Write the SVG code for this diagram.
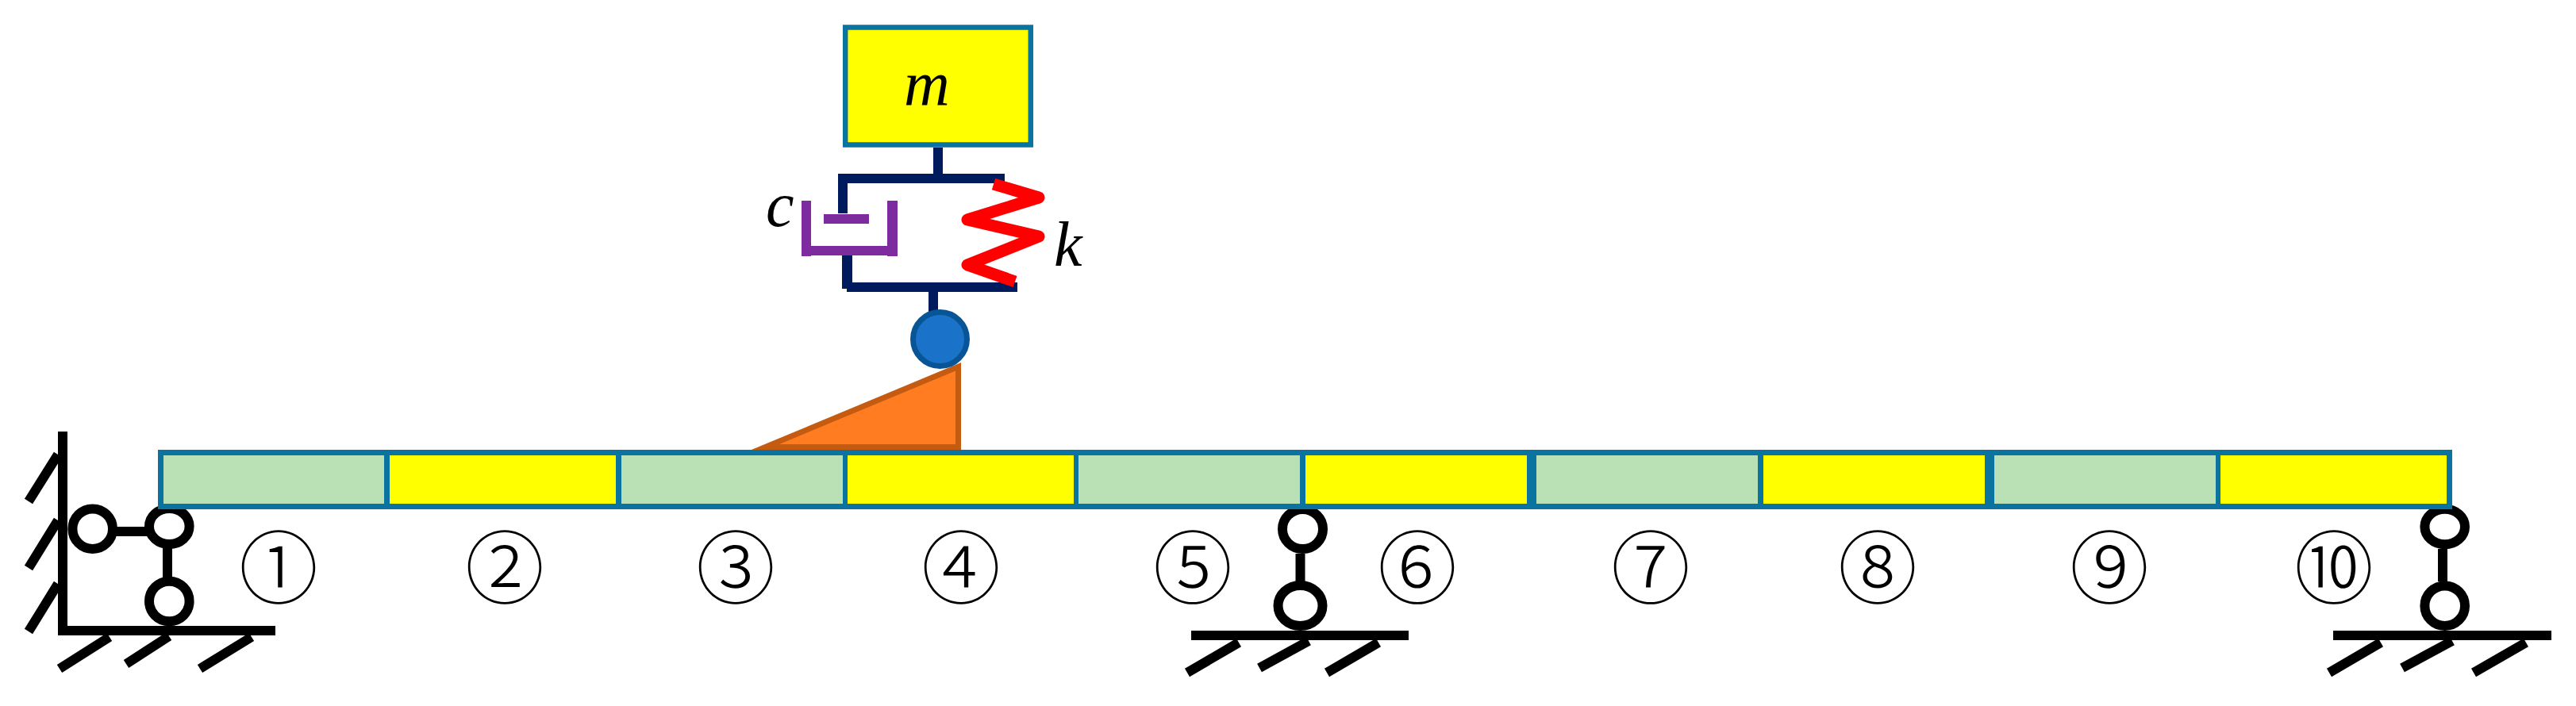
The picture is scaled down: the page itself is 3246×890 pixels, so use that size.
<svg xmlns="http://www.w3.org/2000/svg" width="3246" height="890" viewBox="0 0 3246 890">
<style>
.bk{stroke:#000;stroke-width:12;fill:none}
.ro{stroke:#000;stroke-width:12;fill:#fff}
.seg{stroke:none}
.g{fill:#BAE1B5}
.y{fill:#FFFF00}
.dv{fill:#0A73A0}
.nv{fill:#001A5E}
.pu{fill:#7F2BA0}
.num{font-family:"Noto Sans CJK KR","Liberation Sans",sans-serif;font-size:100px;font-weight:300;text-anchor:middle;fill:#000}
.sym{font-family:"Liberation Serif",serif;font-style:italic;font-size:80px;fill:#000}
</style>
<rect width="3246" height="890" fill="#fff"/>
<g id="connectors">
<path class="bk" d="M116 670H213M211 690V730"/>
<path class="bk" d="M1638.5 698V735"/>
<path class="bk" d="M3078 692V733"/>
</g>
<g id="support-left">
<path d="M73 544H85V789H347V801H73Z" fill="#000"/>
<path class="bk" d="M73 573L36 632M73 656L36 716M73 736L36 796M138 803L75 843M213 802L159 837M317 803L252 843"/>
<circle class="ro" cx="116.7" cy="666.7" r="25.3"/>
<ellipse class="ro" cx="213.3" cy="663.5" rx="25.3" ry="22.5"/>
<circle class="ro" cx="213.3" cy="758" r="25.3"/>
</g>
<g id="support-mid">
<rect x="1501" y="795" width="274" height="12"/>
<path class="bk" d="M1561 810L1496 848M1649 808L1587 842M1737 810L1672 848"/>
<ellipse class="ro" cx="1641.5" cy="667" rx="25.5" ry="25"/>
<ellipse class="ro" cx="1638.5" cy="763.5" rx="28" ry="25.5"/>
</g>
<g id="support-right">
<rect x="2940" y="795" width="275" height="12"/>
<path class="bk" d="M3000 810L2935 848M3090 808L3027 842M3183 810L3117 848"/>
<ellipse class="ro" cx="3080.7" cy="664" rx="25.3" ry="22.3"/>
<circle class="ro" cx="3080.7" cy="763.7" r="25.3"/>
</g>
<g id="wedge">
<polygon points="964.5,563.5 1207.5,462.3 1207.5,563.5" fill="#FF7C21" stroke="#C55A11" stroke-width="7" stroke-miterlimit="10"/>
</g>
<g id="beam">
<rect x="199" y="567" width="2891" height="75" class="dv"/>
<rect x="206" y="574" width="278" height="61" class="g"/>
<rect x="491" y="574" width="285" height="61" class="y"/>
<rect x="783" y="574" width="279" height="61" class="g"/>
<rect x="1068" y="574" width="285" height="61" class="y"/>
<rect x="1359" y="574" width="279" height="61" class="g"/>
<rect x="1645" y="574" width="279" height="61" class="y"/>
<rect x="1936" y="574" width="279" height="61" class="g"/>
<rect x="2222" y="574" width="279" height="61" class="y"/>
<rect x="2513" y="574" width="279" height="61" class="g"/>
<rect x="2798" y="574" width="285" height="61" class="y"/>
</g>
<g id="labels">
<text class="num" x="351" y="753">①</text>
<text class="num" x="636" y="753">②</text>
<text class="num" x="927" y="753">③</text>
<text class="num" x="1211" y="753">④</text>
<text class="num" x="1503" y="753">⑤</text>
<text class="num" x="1786" y="753">⑥</text>
<text class="num" x="2080" y="753">⑦</text>
<text class="num" x="2366" y="753">⑧</text>
<text class="num" x="2658" y="753">⑨</text>
<text class="num" x="2941" y="753">⑩</text>
</g>
<g id="mass">
<rect x="1065.2" y="34.5" width="233.6" height="148" fill="#FFFF00" stroke="#0A73A0" stroke-width="6.5"/>
<text class="sym" x="1139" y="132">m</text>
</g>
<g id="frame">
<path class="nv" d="M1176 186H1188V219H1266V231H1068V269H1056V219H1176Z"/>
<path class="nv" d="M1061 322H1074V356H1282V368H1182V395H1170V368H1067V364H1061Z"/>
</g>
<g id="damper">
<path class="pu" d="M1010 253H1022V310H1118V253H1131V323H1118V322H1022V323H1010Z"/>
<rect class="pu" x="1038" y="270" width="57" height="12"/>
<text class="sym" x="965" y="285">c</text>
</g>
<g id="spring">
<polyline points="1252,232 1309,249 1219,277 1309,298 1219,334 1279,355" fill="none" stroke="#FF0000" stroke-width="15" stroke-linejoin="round"/>
<text class="sym" x="1328" y="335">k</text>
</g>
<g id="ball">
<circle cx="1184.5" cy="427.5" r="34" fill="#1A73C8" stroke="#075496" stroke-width="7"/>
</g>
</svg>
